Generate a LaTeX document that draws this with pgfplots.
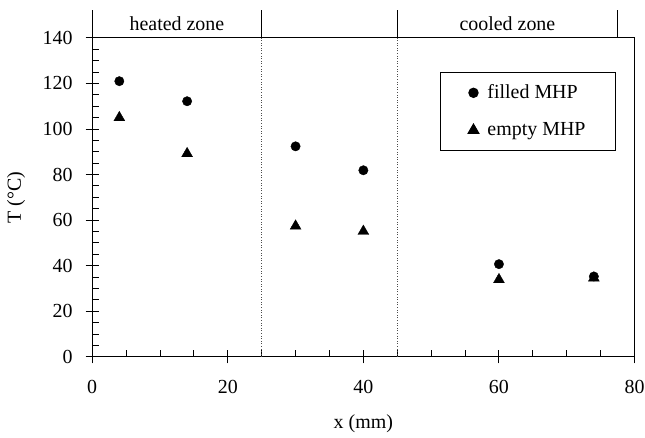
\documentclass[border=0pt]{standalone}
\usepackage{fontspec}
\setmainfont{Liberation Serif}
\usepackage{pgfplots}
\pgfplotsset{compat=1.18}
\usetikzlibrary{calc}
\begin{document}
\fontsize{20}{24}\selectfont
\begin{tikzpicture}
\begin{axis}[
  scale only axis, width=544pt, height=320pt,
  xmin=0, xmax=80, ymin=0, ymax=140,
  xtick={0,20,...,80}, ytick={0,20,...,140},
  minor x tick num=3, minor y tick num=3,
  tick pos=left, tick align=inside,
  major tick length=13pt, minor tick length=7pt,
  major x tick style={yshift=-6.5pt}, major y tick style={xshift=-6.5pt},
  every tick/.style={black, line width=1pt},
  axis line style={line width=1.2pt},
  /pgf/number format/assume math mode=true,
  ticklabel style={font=\fontsize{20}{24}\selectfont},
  xticklabel style={yshift=-17pt},
  yticklabel style={xshift=-12.8pt},
  xlabel={x (mm)}, ylabel={T (°C)},
  every axis x label/.style={at={(axis description cs:0.5,-0.209)}, anchor=center},
  every axis y label/.style={at={(axis description cs:-0.1406,0.5)}, anchor=center, rotate=90},
  clip=false,
  reverse legend,
  legend style={at={(axis cs:51.25,125.1)}, anchor=north west, draw=black, line width=1pt,
    inner xsep=28pt, inner ysep=10pt, row sep=17pt, cells={anchor=west},
    font=\fontsize{20}{24}\selectfont},
  legend image code/.code={\draw[#1] plot coordinates {(0pt,0pt)}; \path[draw=none,fill=none] (0pt,0pt) -- (12pt,0pt);},
]
\coordinate (O) at (axis cs:0,0);
\draw[dotted, black!70, line width=0.6pt] (axis cs:25,0) -- (axis cs:25,140);
\draw[dotted, black!70, line width=0.6pt] (axis cs:45,0) -- (axis cs:45,140);
\draw[line width=1.2pt] (axis cs:0,140) -- (axis cs:0,152.2);
\draw[line width=1.2pt] (axis cs:25,140) -- (axis cs:25,152.2);
\draw[line width=1.2pt] (axis cs:45,140) -- (axis cs:45,152.2);
\draw[line width=1.2pt] (axis cs:77.5,140) -- (axis cs:77.5,152.2);
\node[anchor=base] at (axis cs:12.5,143.2) {heated zone};
\node[anchor=base] at (axis cs:61.25,143.2) {cooled zone};
\addplot[only marks, mark=triangle*, mark size=6.3pt, black] coordinates {(4,105)(14,89.2)(30,57.4)(40,55.1)(60,33.9)(74,34.6)};
\addlegendentry{empty MHP}
\addplot[only marks, mark=*, mark size=4.7pt, black] coordinates {(4,121)(14,112.2)(30,92.4)(40,81.9)(60,40.7)(74,35.3)};
\addlegendentry{filled MHP}
\end{axis}
\pgfresetboundingbox
\path[use as bounding box] ($(O)+(-92.5pt,-81pt)$) rectangle ($(O)+(554.5pt,358pt)$);
\end{tikzpicture}
\end{document}
